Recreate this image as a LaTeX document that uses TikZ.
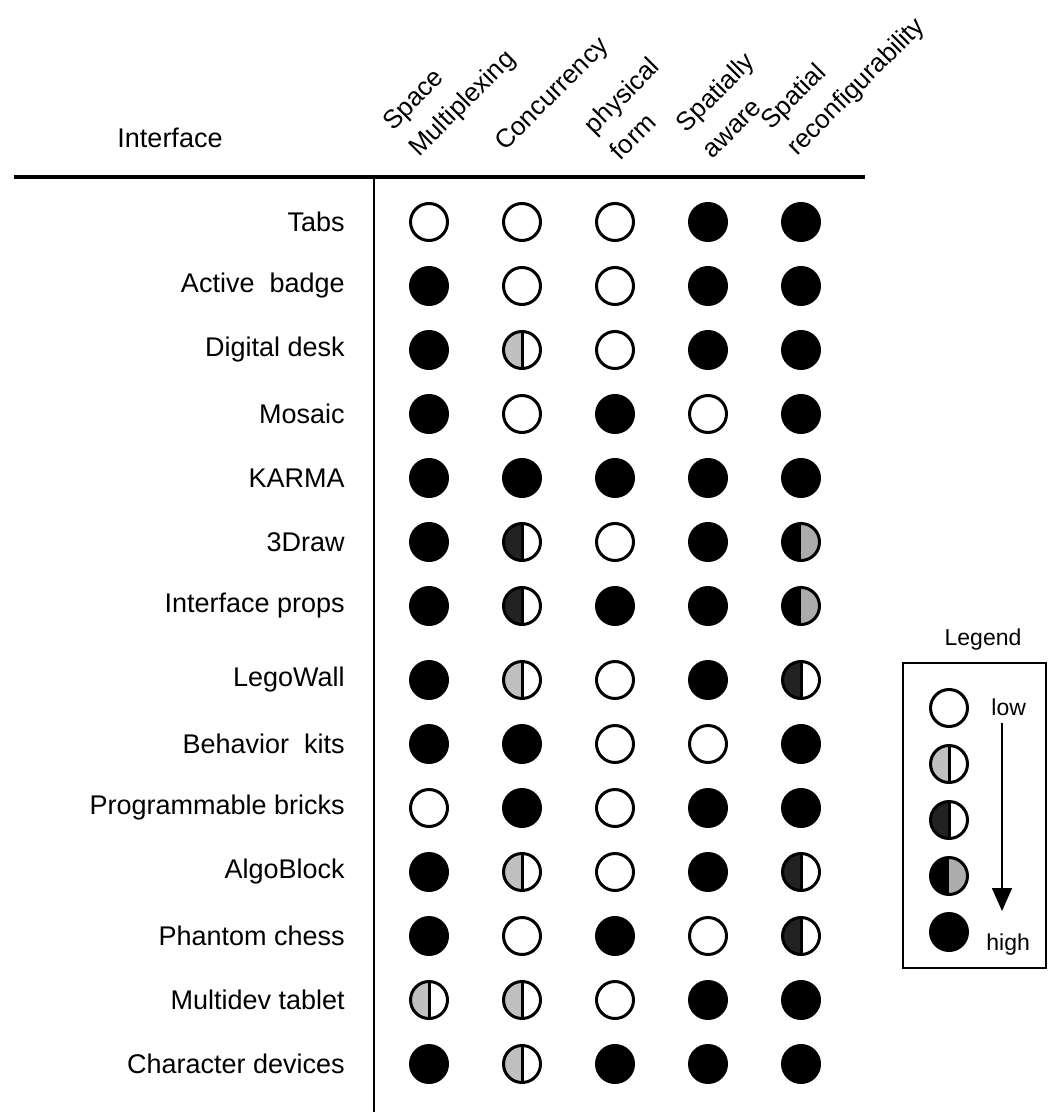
\documentclass[tikz,border=0pt]{standalone}
\usepackage{fontspec}
\setmainfont{Liberation Sans}
\usepackage{tikz}
\usetikzlibrary{positioning, arrows.meta}
\usepackage{xcolor}

\definecolor{lightfill}{RGB}{192,192,192}
\definecolor{midfill}{RGB}{172,172,172}
\definecolor{darkfill}{RGB}{34,34,34}

\begin{document}
\begin{tikzpicture}[x=0.5pt, y=-0.5pt, node distance=32pt and 46.5pt, on grid, inner sep=0pt]

	\tikzstyle{dot} = [draw, circle, line width=1.5pt, minimum size=18.5pt, inner sep=0pt]
	
	\tikzstyle{lowdot} = [dot, fill=white]
	
	\tikzstyle{greydot} = [dot, fill=white, path picture={\fill[lightfill] (path picture bounding box.south west) rectangle (path picture bounding box.north); \draw[line width=1.5pt] (path picture bounding box.south) -- (path picture bounding box.north);}]
	
	\tikzstyle{darkdot} = [dot, fill=white, path picture={\fill[darkfill] (path picture bounding box.south west) rectangle (path picture bounding box.north); \draw[line width=1.5pt] (path picture bounding box.south) -- (path picture bounding box.north);}]
	
	\tikzstyle{blackgreydot} = [dot, fill=midfill, path picture={\fill[black] (path picture bounding box.south west) rectangle (path picture bounding box.north);}]
	
	\tikzstyle{highdot} = [dot, fill=black]
	
	\tikzstyle{rowname} = [on grid=false, font=\fontsize{13.5}{16}\selectfont]
	
	\tikzstyle{colname} = [rotate=45, anchor=south west, align=left, font=\fontsize{13}{18.5}\selectfont]
	
	\tikzstyle{legendtext} = [font=\fontsize{11.5}{14}\selectfont]
	
	\useasboundingbox (0,0) rectangle (1048,1112);
	
	% header
	\node[font=\fontsize{13.5}{16}\selectfont] (interface) at (170,138) {Interface};
	\node[colname] (space multiplexing) at (423,162) {Space\\Multiplexing};
	\node[colname] (concurrency) at (509,156) {Concurrency};
	\node[colname] (physical form) at (621,162) {physical\\form};
	\node[colname] (spatially aware) at (713,160) {Spatially\\aware};
	\node[colname] (spatial reconfig) at (801,161) {Spatial\\reconfigurability};
	
	\coordinate (rule left) at (14,177);
	\coordinate (rule right) at (865,177);
	\coordinate (rule top) at (374,177);
	\coordinate (rule bottom) at (374,1112);
	\draw[line width=2pt] (rule left) -- (rule right);
	\draw[line width=1pt] (rule top) -- (rule bottom);
	
	% Tabs
	\node[lowdot] (tabs 1) at (429,222) {};
	\node[lowdot, right=of tabs 1] (tabs 2) {};
	\node[lowdot, right=of tabs 2] (tabs 3) {};
	\node[highdot, right=of tabs 3] (tabs 4) {};
	\node[highdot, right=of tabs 4] (tabs 5) {};
	\node[rowname, left=32pt of tabs 1] (tabs) {Tabs};
	
	% Active badge
	\node[highdot, below=of tabs 1] (badge 1) {};
	\node[lowdot, right=of badge 1] (badge 2) {};
	\node[lowdot, right=of badge 2] (badge 3) {};
	\node[highdot, right=of badge 3] (badge 4) {};
	\node[highdot, right=of badge 4] (badge 5) {};
	\node[rowname, left=32pt of badge 1] (badge) {Active\ \ badge};
	
	% Digital desk
	\node[highdot, below=of badge 1] (desk 1) {};
	\node[greydot, right=of desk 1] (desk 2) {};
	\node[lowdot, right=of desk 2] (desk 3) {};
	\node[highdot, right=of desk 3] (desk 4) {};
	\node[highdot, right=of desk 4] (desk 5) {};
	\node[rowname, left=32pt of desk 1] (desk) {Digital desk};
	
	% Mosaic
	\node[highdot, below=of desk 1] (mosaic 1) {};
	\node[lowdot, right=of mosaic 1] (mosaic 2) {};
	\node[highdot, right=of mosaic 2] (mosaic 3) {};
	\node[lowdot, right=of mosaic 3] (mosaic 4) {};
	\node[highdot, right=of mosaic 4] (mosaic 5) {};
	\node[rowname, left=32pt of mosaic 1] (mosaic) {Mosaic};
	
	% KARMA
	\node[highdot, below=of mosaic 1] (karma 1) {};
	\node[highdot, right=of karma 1] (karma 2) {};
	\node[highdot, right=of karma 2] (karma 3) {};
	\node[highdot, right=of karma 3] (karma 4) {};
	\node[highdot, right=of karma 4] (karma 5) {};
	\node[rowname, left=32pt of karma 1] (karma) {KARMA};
	
	% 3Draw
	\node[highdot, below=of karma 1] (draw 1) {};
	\node[darkdot, right=of draw 1] (draw 2) {};
	\node[lowdot, right=of draw 2] (draw 3) {};
	\node[highdot, right=of draw 3] (draw 4) {};
	\node[blackgreydot, right=of draw 4] (draw 5) {};
	\node[rowname, left=32pt of draw 1] (draw) {3Draw};
	
	% Interface props
	\node[highdot, below=of draw 1] (props 1) {};
	\node[darkdot, right=of props 1] (props 2) {};
	\node[highdot, right=of props 2] (props 3) {};
	\node[highdot, right=of props 3] (props 4) {};
	\node[blackgreydot, right=of props 4] (props 5) {};
	\node[rowname, left=32pt of props 1] (props) {Interface props};
	
	% LegoWall
	\node[highdot, below=37pt of props 1] (legowall 1) {};
	\node[greydot, right=of legowall 1] (legowall 2) {};
	\node[lowdot, right=of legowall 2] (legowall 3) {};
	\node[highdot, right=of legowall 3] (legowall 4) {};
	\node[darkdot, right=of legowall 4] (legowall 5) {};
	\node[rowname, left=32pt of legowall 1] (legowall) {LegoWall};
	
	% Behavior kits
	\node[highdot, below=of legowall 1] (kits 1) {};
	\node[highdot, right=of kits 1] (kits 2) {};
	\node[lowdot, right=of kits 2] (kits 3) {};
	\node[lowdot, right=of kits 3] (kits 4) {};
	\node[highdot, right=of kits 4] (kits 5) {};
	\node[rowname, left=32pt of kits 1] (kits) {Behavior\ \ kits};
	
	% Programmable bricks
	\node[lowdot, below=of kits 1] (bricks 1) {};
	\node[highdot, right=of bricks 1] (bricks 2) {};
	\node[lowdot, right=of bricks 2] (bricks 3) {};
	\node[highdot, right=of bricks 3] (bricks 4) {};
	\node[highdot, right=of bricks 4] (bricks 5) {};
	\node[rowname, left=32pt of bricks 1] (bricks) {Programmable bricks};
	
	% AlgoBlock
	\node[highdot, below=of bricks 1] (algoblock 1) {};
	\node[greydot, right=of algoblock 1] (algoblock 2) {};
	\node[lowdot, right=of algoblock 2] (algoblock 3) {};
	\node[highdot, right=of algoblock 3] (algoblock 4) {};
	\node[darkdot, right=of algoblock 4] (algoblock 5) {};
	\node[rowname, left=32pt of algoblock 1] (algoblock) {AlgoBlock};
	
	% Phantom chess
	\node[highdot, below=of algoblock 1] (chess 1) {};
	\node[lowdot, right=of chess 1] (chess 2) {};
	\node[highdot, right=of chess 2] (chess 3) {};
	\node[lowdot, right=of chess 3] (chess 4) {};
	\node[darkdot, right=of chess 4] (chess 5) {};
	\node[rowname, left=32pt of chess 1] (chess) {Phantom chess};
	
	% Multidev tablet
	\node[greydot, below=of chess 1] (tablet 1) {};
	\node[greydot, right=of tablet 1] (tablet 2) {};
	\node[lowdot, right=of tablet 2] (tablet 3) {};
	\node[highdot, right=of tablet 3] (tablet 4) {};
	\node[highdot, right=of tablet 4] (tablet 5) {};
	\node[rowname, left=32pt of tablet 1] (tablet) {Multidev tablet};
	
	% Character devices
	\node[highdot, below=of tablet 1] (devices 1) {};
	\node[greydot, right=of devices 1] (devices 2) {};
	\node[highdot, right=of devices 2] (devices 3) {};
	\node[highdot, right=of devices 3] (devices 4) {};
	\node[highdot, right=of devices 4] (devices 5) {};
	\node[rowname, left=32pt of devices 1] (devices) {Character devices};
	
	% legend
	\node[legendtext] (legend title) at (983,640) {Legend};
	\node[draw, line width=0.8pt, minimum width=71.5pt, minimum height=152.5pt] (legend box) at (974.5,815.5) {};
	\node[lowdot] (legend low) at (949,708) {};
	\node[greydot, below=28pt of legend low] (legend grey) {};
	\node[darkdot, below=28pt of legend grey] (legend dark) {};
	\node[blackgreydot, below=28pt of legend dark] (legend blackgrey) {};
	\node[highdot, below=28pt of legend blackgrey] (legend high) {};
	\node[legendtext, anchor=west] (low) at (991,707) {low};
	\node[legendtext, anchor=west] (high) at (986,945) {high};
	
	\coordinate (arrow start) at (1002,723);
	\coordinate (arrow end) at (1002,911);
	\draw[line width=0.8pt, -{Triangle[width=10pt,length=11.5pt]}] (arrow start) -- (arrow end);
	
\end{tikzpicture}
\end{document}
